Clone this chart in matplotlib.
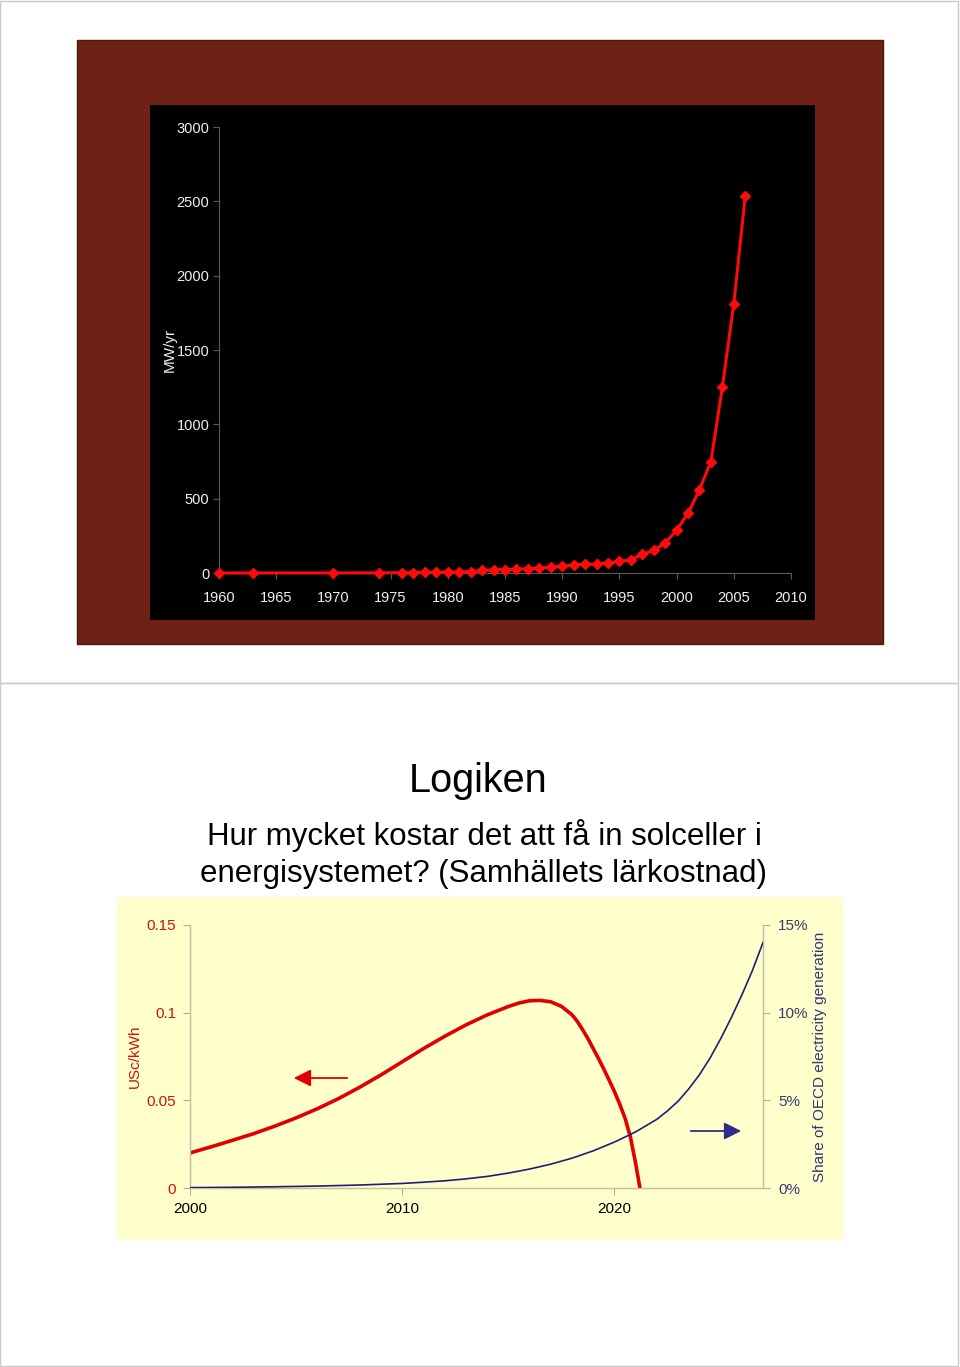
import matplotlib
matplotlib.use('Agg')
import matplotlib.pyplot as plt
from matplotlib.patches import Rectangle, FancyArrowPatch
import numpy as np

W, H = 960, 1367

# --- top chart: world PV production, MW/yr ---
years_pv = [1960, 1963, 1970, 1974, 1976, 1977, 1978, 1979, 1980, 1981,
            1982, 1983, 1984, 1985, 1986, 1987, 1988, 1989, 1990, 1991,
            1992, 1993, 1994, 1995, 1996, 1997, 1998, 1999, 2000, 2001,
            2002, 2003, 2004, 2005, 2006]
mw_pv = [0, 0.2, 0.5, 1, 2, 3, 4, 5, 7, 8,
         10, 17, 22, 23, 26, 29, 33, 40, 46, 55,
         58, 61, 69, 78, 89, 125, 153, 202, 288, 401,
         560, 750, 1250, 1810, 2535]
pv_xticks = list(range(1960, 2011, 5))
pv_yticks = [0, 500, 1000, 1500, 2000, 2500, 3000]

# --- bottom chart: learning cost (USc/kWh) and share of OECD generation (%) ---
cost_years = [2000, 2001, 2002, 2003, 2004, 2005, 2006, 2007, 2008, 2009,
              2010, 2011, 2012, 2013, 2014, 2015, 2015.5, 2016, 2016.5, 2017,
              2017.5, 2018, 2018.25, 2018.5, 2018.75, 2019, 2019.25, 2019.5,
              2019.75, 2020, 2020.25, 2020.5, 2020.75, 2021, 2021.2]
cost_usc = [0.0200, 0.0235, 0.0272, 0.0310, 0.0353, 0.0400, 0.0452, 0.0510,
            0.0575, 0.0645, 0.0720, 0.0795, 0.0865, 0.0930, 0.0987, 0.1035,
            0.1055, 0.1068, 0.1070, 0.1062, 0.1036, 0.0988, 0.0950, 0.0903,
            0.0852, 0.0795, 0.0738, 0.0678, 0.0615, 0.0550, 0.0478, 0.0398,
            0.0292, 0.0140, 0.0]
share_years = [2000, 2002, 2004, 2006, 2008, 2010, 2011, 2012, 2013, 2014,
               2015, 2016, 2017, 2018, 2019, 2020, 2021, 2022, 2022.5, 2023,
               2023.5, 2024, 2024.5, 2025, 2025.5, 2026, 2026.5, 2027]
share_pct = [0.02, 0.04, 0.07, 0.11, 0.17, 0.26, 0.33, 0.41, 0.52, 0.66,
             0.85, 1.08, 1.36, 1.70, 2.12, 2.62, 3.20, 3.92, 4.40, 4.95,
             5.65, 6.45, 7.40, 8.50, 9.70, 11.0, 12.4, 14.0]
cost_yticks = [0, 0.05, 0.1, 0.15]
cost_yticklabels = ['0', '0.05', '0.1', '0.15']
share_yticks = [0, 5, 10, 15]
share_yticklabels = ['0%', '5%', '10%', '15%']
year_ticks = [2000, 2010, 2020]

sans = ['Liberation Sans', 'DejaVu Sans']


def rect(x0, y0, x1, y1):
    # pixel box (top-left origin) -> figure fraction
    return [x0 / W, 1 - y1 / H, (x1 - x0) / W, (y1 - y0) / H]


def fpt(x, y):
    return (x / W, 1 - y / H)


def bg_box(x0, y0, x1, y1, **kw):
    r = rect(x0, y0, x1, y1)
    fig.patches.append(Rectangle((r[0], r[1]), r[2], r[3], transform=fig.transFigure,
                                 zorder=-10, **kw))


fig = plt.figure(figsize=(W / 100, H / 100), dpi=100)
fig.patch.set_facecolor('white')

# page frames and slide backgrounds
bg_box(0, 1, 958, 683, fill=False, edgecolor='#c8c8c8', lw=1)
bg_box(0, 683, 958, 1366, fill=False, edgecolor='#c8c8c8', lw=1)
bg_box(77, 40, 883, 644, facecolor='#6e2114', edgecolor='#4a1a10', lw=1)
bg_box(150, 105, 815, 620, facecolor='black', edgecolor='none')
bg_box(117, 897, 843, 1240, facecolor='#ffffcc', edgecolor='none')

# top chart
ax1 = fig.add_axes(rect(219, 127, 791, 573))
ax1.set_facecolor('none')
ax1.plot(years_pv, mw_pv, color='#ff0a0a', lw=2.2, marker='D', ms=5,
         clip_on=False, zorder=5)
ax1.set_xlim(1960, 2010)
ax1.set_ylim(0, 3000)
ax1.set_xticks(pv_xticks)
ax1.set_yticks(pv_yticks)
for s in ['top', 'right']:
    ax1.spines[s].set_visible(False)
for s in ['left', 'bottom']:
    ax1.spines[s].set_color('#5a5a5a')
    ax1.spines[s].set_linewidth(0.8)
ax1.tick_params(colors='#5a5a5a', length=4, width=0.8)
ax1.tick_params(axis='both', labelcolor='#f0f0f0', labelsize=10.5)
ax1.tick_params(axis='x', pad=9)
ax1.tick_params(axis='y', pad=3)
for lab in ax1.get_xticklabels() + ax1.get_yticklabels():
    lab.set_family(sans)
ax1.set_ylabel('MW/yr', color='#f0f0f0', fontsize=11, family=sans)
ax1.yaxis.set_label_coords(-0.073, 0.5)

# titles of second slide
fig.text(*fpt(478, 781), 'Logiken', ha='center', va='center', fontsize=28.5,
         family=sans, color='black')
fig.text(*fpt(484, 836), 'Hur mycket kostar det att få in solceller i', ha='center',
         va='center', fontsize=22.5, family=sans, color='black')
fig.text(*fpt(484, 874), 'energisystemet? (Samhällets lärkostnad)', ha='center',
         va='center', fontsize=22.5, family=sans, color='black')

# bottom chart
ax2 = fig.add_axes(rect(190, 925, 763, 1188))
ax2.set_facecolor('none')
ax3 = ax2.twinx()
ax2.plot(cost_years, cost_usc, color='#e00000', lw=2.6, zorder=4,
         solid_joinstyle='round')
ax3.plot(share_years, share_pct, color='#1e1e78', lw=1.2, zorder=3,
         solid_joinstyle='round')
ax2.set_xlim(2000, 2027)
ax2.set_ylim(0, 0.15)
ax3.set_ylim(0, 15)
ax2.set_xticks(year_ticks)
ax2.set_xticklabels([str(y) for y in year_ticks])
ax2.set_yticks(cost_yticks)
ax2.set_yticklabels(cost_yticklabels)
ax3.set_yticks(share_yticks)
ax3.set_yticklabels(share_yticklabels)
for a in (ax2, ax3):
    a.spines['top'].set_visible(False)
    for s in ['left', 'right', 'bottom']:
        a.spines[s].set_color('#c4bfa2')
        a.spines[s].set_linewidth(0.9)
    a.tick_params(colors='#b0ab90', length=5, width=0.8, labelsize=11)
ax2.tick_params(axis='y', labelcolor='#cc1111', pad=5)
ax2.tick_params(axis='x', labelcolor='black', pad=5)
ax3.tick_params(axis='y', labelcolor='#3a3a6e', pad=6)
for lab in ax2.get_xticklabels() + ax2.get_yticklabels() + ax3.get_yticklabels():
    lab.set_family(sans)
ax2.set_ylabel('USc/kWh', color='#cc1111', fontsize=11, family=sans)
ax2.yaxis.set_label_coords(-0.084, 0.5)
ax3.set_ylabel('Share of OECD electricity generation', color='#33337a', fontsize=11,
               family=sans)
ax3.yaxis.set_label_coords(1.087, 0.5)

# direction arrows
fig.add_artist(FancyArrowPatch(fpt(350, 1078), fpt(291, 1078), transform=fig.transFigure,
                               arrowstyle='-|>', mutation_scale=26, color='#e00000', lw=1.3))
fig.add_artist(FancyArrowPatch(fpt(688, 1131), fpt(744, 1131), transform=fig.transFigure,
                               arrowstyle='-|>', mutation_scale=26, color='#2e2e8a', lw=1.3))

fig.savefig('out.png', dpi=100, facecolor='white')
